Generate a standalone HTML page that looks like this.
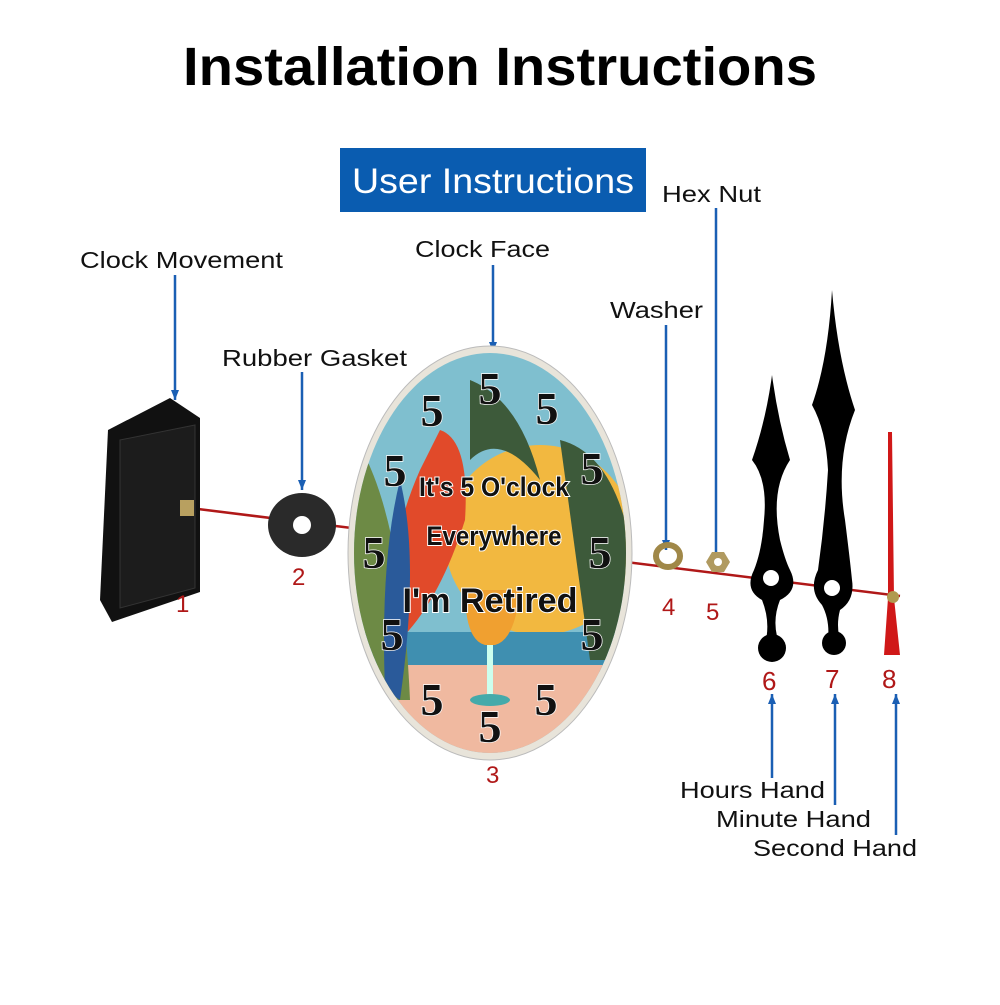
<!DOCTYPE html>
<html><head><style>
body{margin:0;background:#fff;width:1000px;height:1000px;overflow:hidden}
</style></head><body>
<svg width="1000" height="1000" viewBox="0 0 1000 1000" font-family="Liberation Sans, sans-serif">
<defs>
<marker id="a" markerWidth="10" markerHeight="8" refX="10" refY="4" orient="auto" markerUnits="userSpaceOnUse"><path d="M0,0 L10,4 L0,8 Z" fill="#1a5fb4"/></marker>
<clipPath id="c"><ellipse cx="490" cy="553" rx="136" ry="200"/></clipPath>
</defs>
<text x="500" y="85" text-anchor="middle" font-size="54" font-weight="bold" textLength="634" lengthAdjust="spacingAndGlyphs">Installation Instructions</text>
<rect x="340" y="148" width="306" height="64" fill="#0a5cb0"/>
<text x="493" y="193" text-anchor="middle" font-size="35" fill="#fff" textLength="282" lengthAdjust="spacingAndGlyphs">User Instructions</text>
<g font-size="23" fill="#111">
<text x="80" y="268" textLength="203" lengthAdjust="spacingAndGlyphs">Clock Movement</text>
<text x="222" y="366" textLength="185" lengthAdjust="spacingAndGlyphs">Rubber Gasket</text>
<text x="415" y="257" textLength="135" lengthAdjust="spacingAndGlyphs">Clock Face</text>
<text x="610" y="318" textLength="93" lengthAdjust="spacingAndGlyphs">Washer</text>
<text x="662" y="202" textLength="99" lengthAdjust="spacingAndGlyphs">Hex Nut</text>
<text x="680" y="798" textLength="145" lengthAdjust="spacingAndGlyphs">Hours Hand</text>
<text x="716" y="827" textLength="155" lengthAdjust="spacingAndGlyphs">Minute Hand</text>
<text x="753" y="856" textLength="164" lengthAdjust="spacingAndGlyphs">Second Hand</text>
</g>
<g stroke="#1a5fb4" stroke-width="2.5" fill="none">
<line x1="175" y1="275" x2="175" y2="400" marker-end="url(#a)"/>
<line x1="302" y1="372" x2="302" y2="490" marker-end="url(#a)"/>
<line x1="493" y1="265" x2="493" y2="352" marker-end="url(#a)"/>
<line x1="666" y1="325" x2="666" y2="550" marker-end="url(#a)"/>
<line x1="716" y1="208" x2="716" y2="562" marker-end="url(#a)"/>
<line x1="772" y1="778" x2="772" y2="694" marker-end="url(#a)"/>
<line x1="835" y1="805" x2="835" y2="694" marker-end="url(#a)"/>
<line x1="896" y1="835" x2="896" y2="694" marker-end="url(#a)"/>
</g>
<line x1="190" y1="508" x2="900" y2="596" stroke="#b01818" stroke-width="2.5"/>
<path d="M108,430 L170,398 L200,418 L200,592 L112,622 L100,600 Z" fill="#111"/>
<path d="M120,440 L195,425 L195,588 L120,608 Z" fill="#1c1c1c" stroke="#333"/>
<rect x="180" y="500" width="14" height="16" fill="#b8a060"/>
<text x="176" y="612" font-size="24" fill="#b01818">1</text>
<ellipse cx="302" cy="525" rx="34" ry="32" fill="#2a2a2a"/>
<ellipse cx="302" cy="525" rx="9" ry="9" fill="#fff"/>
<text x="292" y="585" font-size="24" fill="#b01818">2</text>
<ellipse cx="490" cy="553" rx="142" ry="207" fill="#e8e4da" stroke="#bbb"/>
<g clip-path="url(#c)">
<rect x="340" y="340" width="300" height="420" fill="#7fbfcf"/>
<circle cx="540" cy="540" r="95" fill="#f2b840"/>
<rect x="340" y="632" width="300" height="40" fill="#3f8fb0"/>
<rect x="340" y="665" width="300" height="100" fill="#f0b9a0"/>
<path d="M340,420 Q400,480 410,700 L340,700 Z" fill="#6d8a45"/>
<path d="M560,440 Q640,460 640,660 L590,660 Z" fill="#3d5a3a"/>
<path d="M470,380 Q520,400 540,480 Q500,430 470,460 Z" fill="#3d5a3a"/>
<path d="M440,430 Q470,440 465,520 Q440,600 400,640 Q380,560 420,470 Z" fill="#e14a2a"/>
<path d="M400,480 Q420,560 400,700 L385,690 Q380,560 400,480 Z" fill="#2a5a9a"/>
<path d="M465,590 L520,590 Q515,640 495,645 L485,645 Q465,640 465,590 Z" fill="#f0a030"/>
<rect x="487" y="645" width="6" height="50" fill="#cfe"/>
<ellipse cx="490" cy="700" rx="20" ry="6" fill="#4aa"/>
</g>
<g font-family="Liberation Serif, serif" font-size="46" font-weight="bold" fill="#111" stroke="#fff" stroke-width="1.5" paint-order="stroke" text-anchor="middle">
<text x="490" y="404">5</text><text x="547" y="424">5</text><text x="432" y="426">5</text>
<text x="592" y="484">5</text><text x="395" y="486">5</text>
<text x="600" y="568">5</text><text x="374" y="568">5</text>
<text x="592" y="650">5</text><text x="392" y="650">5</text>
<text x="546" y="715">5</text><text x="432" y="715">5</text><text x="490" y="742">5</text>
</g>
<g font-size="27" font-weight="bold" fill="#111" stroke="#fff" stroke-width="2" paint-order="stroke" text-anchor="middle">
<text x="494" y="496" textLength="150" lengthAdjust="spacingAndGlyphs">It's 5 O'clock</text>
<text x="494" y="545" textLength="135" lengthAdjust="spacingAndGlyphs">Everywhere</text>
<text x="490" y="612" font-size="34" textLength="175" lengthAdjust="spacingAndGlyphs">I'm Retired</text>
</g>
<text x="486" y="783" font-size="24" fill="#b01818">3</text>
<ellipse cx="668" cy="556" rx="12" ry="11" fill="none" stroke="#a08848" stroke-width="6"/>
<path d="M706,562 L712,552 L724,552 L730,562 L724,572 L712,572 Z" fill="#b09a60"/>
<circle cx="718" cy="562" r="4" fill="#fff"/>
<text x="662" y="615" font-size="24" fill="#b01818">4</text>
<text x="706" y="620" font-size="24" fill="#b01818">5</text>
<path d="M772,375 Q778,420 790,460 Q770,490 780,540 Q785,560 790,570 Q800,590 780,600 Q772,620 778,640 L766,640 Q770,620 762,600 Q744,590 754,570 Q762,550 764,520 Q768,480 752,460 Q766,420 772,375 Z" fill="#000"/>
<circle cx="771" cy="578" r="8" fill="#fff"/>
<circle cx="772" cy="648" r="14" fill="#000"/>
<path d="M832,290 Q838,360 855,410 Q835,460 845,520 Q850,560 852,580 Q855,600 840,610 Q836,625 840,640 L828,640 Q830,620 822,605 Q808,590 818,570 Q825,520 828,470 Q826,430 812,405 Q828,360 832,290 Z" fill="#000"/>
<circle cx="832" cy="588" r="8" fill="#fff"/>
<circle cx="834" cy="643" r="12" fill="#000"/>
<path d="M888,432 L892,432 L894,598 L900,655 L884,655 L888,598 Z" fill="#d01818"/>
<circle cx="893" cy="597" r="6" fill="#b09a50"/>
<text x="762" y="690" font-size="26" fill="#b01818">6</text>
<text x="825" y="688" font-size="26" fill="#b01818">7</text>
<text x="882" y="688" font-size="26" fill="#b01818">8</text>
</svg>
</body></html>
